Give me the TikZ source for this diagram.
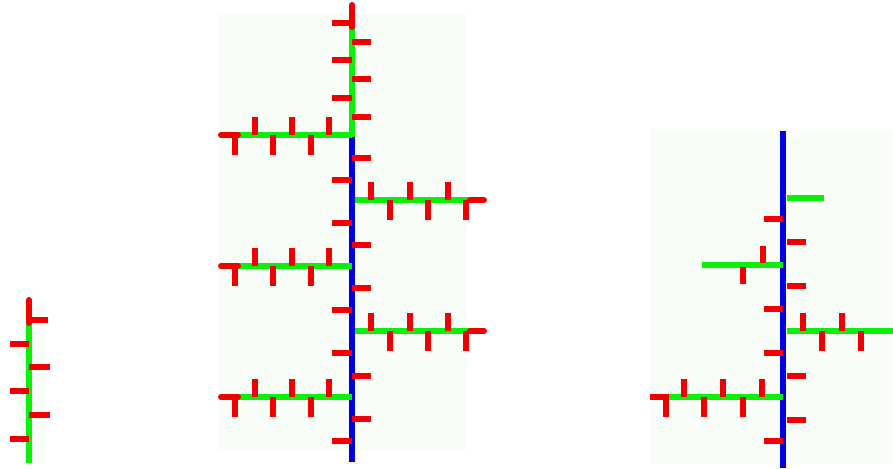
\documentclass[tikz,border=0pt]{standalone}
\definecolor{shootgreen}{RGB}{10,240,10}
\definecolor{budred}{RGB}{240,0,0}
\definecolor{stemblue}{RGB}{0,0,225}
\definecolor{panelbg}{RGB}{249,253,247}

\begin{document}
\begin{tikzpicture}[x=1pt, y=-1pt,
  stem/.style={draw=stemblue, line width=6pt},
  shoot/.style={draw=shootgreen, line width=6pt},
  bud/.style={draw=budred, line width=6pt},
  apex/.style={draw=budred, line width=6pt, line cap=round}]
  \useasboundingbox (0,0) rectangle (893,468);
  \fill[panelbg] (23,302) rectangle (45,464);
  \fill[panelbg] (219,14) rectangle (467,450);
  \fill[panelbg] (650,129) rectangle (893,464);

  % first stage
  \draw[shoot] (29,323) -- (29,463);
  \draw[apex] (29,300) -- (29,323);
  \draw[bud] (29,320) -- (48,320);
  \foreach \y in {344, 391, 439} { \draw[bud] (10,\y) -- (29,\y); }
  \foreach \y in {367, 415} { \draw[bud] (29,\y) -- (50,\y); }

  % second stage
  \draw[stem] (352,137) -- (352,462);
  \draw[shoot] (352,27) -- (352,137);
  \draw[apex] (352,5) -- (352,27);
  \draw[bud] (332,23) -- (352,23);
  \foreach \y in {42, 79, 117, 158, 245, 288, 376, 419} { \draw[bud] (352,\y) -- (371,\y); }
  \foreach \y in {60, 98, 180, 223, 310, 353, 441} { \draw[bud] (332,\y) -- (352,\y); }
  \foreach \y in {135, 266, 397} {
    \draw[shoot] (238,\y) -- (352,\y);
    \draw[apex] (221,\y) -- (238,\y);
    \foreach \x in {255, 292, 329} { \draw[bud] (\x,\y-18) -- (\x,\y); }
    \foreach \x in {235, 273, 311} { \draw[bud] (\x,\y) -- (\x,\y+20); }
  }
  \foreach \y in {200, 331} {
    \draw[shoot] (355,\y) -- (470,\y);
    \draw[apex] (470,\y) -- (484,\y);
    \foreach \x in {371, 410, 448} { \draw[bud] (\x,\y-18) -- (\x,\y); }
    \foreach \x in {390, 428, 466} { \draw[bud] (\x,\y) -- (\x,\y+20); }
  }

  % third stage
  \draw[stem] (783,131) -- (783,468);
  \draw[shoot] (787,198) -- (824,198);
  \foreach \y in {219, 309, 353, 441} { \draw[bud] (764,\y) -- (783,\y); }
  \foreach \y in {242, 286, 376, 420} { \draw[bud] (787,\y) -- (806,\y); }
  \draw[shoot] (702,265) -- (783,265);
  \draw[bud] (763,246) -- (763,263);
  \draw[bud] (743,267) -- (743,284);
  \draw[shoot] (787,331) -- (893,331);
  \foreach \x in {803, 842} { \draw[bud] (\x,313) -- (\x,331); }
  \foreach \x in {822, 861} { \draw[bud] (\x,331) -- (\x,351); }
  \draw[shoot] (669,397) -- (783,397);
  \draw[bud] (650,397) -- (669,397);
  \foreach \x in {684, 723, 762} { \draw[bud] (\x,379) -- (\x,397); }
  \foreach \x in {666, 704, 743} { \draw[bud] (\x,397) -- (\x,417); }
\end{tikzpicture}
\end{document}
